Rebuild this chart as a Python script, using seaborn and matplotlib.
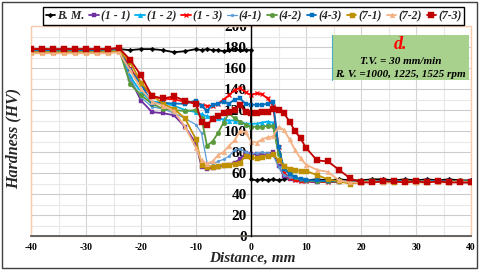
import numpy as np
import pandas as pd
import matplotlib
matplotlib.use("Agg")
import matplotlib.pyplot as plt
import matplotlib.patches as mpatches
import seaborn as sns

# ===== data =====
distance = [-40, -38, -36, -34, -32, -30, -28, -26, -24, -22, -20, -18, -16, -14, -12, -10,
            -9, -8, -7, -6, -5, -4, -3, -2, -1, 0, 1, 2, 3, 4, 5, 6, 7, 8, 9,
            10, 12, 14, 16, 18, 20, 22, 24, 26, 28, 30, 32, 34, 36, 38, 40]

# base metal has two readings at x = 0 (both sides of the joint)
distance_bm = [-40, -38, -36, -34, -32, -30, -28, -26, -24, -22, -20, -18, -16, -14, -12, -10,
               -9, -8, -7, -6, -5, -4, -3, -2, -1, 0, 0, 1, 2, 3, 4, 5, 6, 7, 8, 9,
               10, 12, 14, 16, 18, 20, 22, 24, 26, 28, 30, 32, 34, 36, 38, 40]
hv_bm = [177, 178, 177, 176, 177, 178, 177, 177, 178, 177, 178, 178, 177, 175, 176, 178,
         177, 178, 177, 177, 176, 177, 178, 177, 177, 177, 54, 53, 54, 53, 54, 53, 54, 55, 54, 54,
         53, 54, 53, 54, 53, 53, 54, 54, 53, 54, 53, 54, 53, 54, 53, 53]

hv_1_1 = [176, 177, 177, 176, 177, 177, 176, 177, 178, 150, 129, 118, 117, 115, 104, 88,
          66, 64, 65, 66, 67, 68, 70, 73, 79, 78, 78, 77, 78, 80, 67, 57, 54, 53, 52,
          52, 51, 52, 51, 52, 51, 52, 51, 52, 51, 52, 52, 51, 52, 51, 51]
hv_1_2 = [177, 177, 176, 177, 177, 176, 177, 177, 178, 152, 137, 128, 127, 124, 120, 118,
          116, 114, 113, 112, 111, 110, 110, 109, 107, 107, 107, 108, 109, 108, 80, 60, 56, 54, 53,
          53, 52, 52, 52, 51, 52, 52, 51, 52, 52, 51, 52, 52, 51, 52, 52]
hv_1_3 = [178, 178, 177, 178, 178, 177, 178, 178, 179, 160, 145, 133, 131, 130, 128, 126,
          125, 124, 124, 126, 130, 134, 139, 141, 137, 134, 136, 135, 131, 124, 85, 60, 55, 53, 52,
          52, 52, 51, 52, 52, 51, 52, 52, 51, 52, 52, 51, 52, 52, 51, 52]
hv_4_1 = [176, 177, 177, 177, 176, 177, 177, 177, 177, 150, 132, 123, 121, 117, 112, 106,
          98, 70, 69, 71, 73, 76, 82, 83, 80, 78, 79, 80, 79, 77, 66, 58, 56, 55, 54,
          53, 52, 52, 52, 52, 51, 52, 52, 52, 51, 52, 52, 52, 51, 52, 52]
hv_4_2 = [177, 176, 177, 177, 177, 176, 177, 177, 178, 145, 134, 126, 121, 120, 119, 120,
          112, 86, 90, 98, 108, 117, 112, 109, 106, 104, 104, 104, 105, 105, 78, 66, 60, 56, 54,
          53, 52, 52, 52, 51, 52, 52, 52, 51, 52, 52, 52, 51, 52, 52, 52]
hv_4_3 = [177, 177, 177, 178, 177, 177, 177, 178, 178, 158, 145, 126, 127, 126, 126, 129,
          124, 119, 125, 126, 128, 126, 130, 131, 126, 125, 125, 125, 126, 128, 85, 64, 59, 56, 54,
          53, 53, 52, 52, 52, 51, 52, 52, 52, 52, 51, 52, 52, 52, 51, 52]
hv_7_1 = [175, 175, 175, 175, 175, 175, 175, 175, 176, 166, 146, 134, 126, 121, 112, 92,
          68, 66, 66, 67, 68, 68, 69, 70, 76, 75, 74, 75, 76, 78, 72, 67, 64, 63, 62,
          62, 58, 54, 52, 50, 51, 52, 51, 51, 52, 51, 51, 52, 51, 52, 51]
hv_7_2 = [174, 174, 174, 174, 174, 174, 174, 174, 175, 158, 140, 128, 124, 119, 104, 84,
          72, 69, 71, 77, 80, 86, 91, 100, 99, 90, 89, 92, 94, 95, 104, 101, 92, 82, 74,
          68, 63, 61, 53, 51, 51, 52, 51, 52, 51, 51, 52, 51, 51, 52, 51]
hv_7_3 = [178, 178, 178, 178, 178, 178, 178, 178, 179, 168, 153, 133, 131, 133, 129, 126,
          109, 106, 111, 114, 117, 118, 120, 125, 118, 117, 117, 118, 118, 121, 120, 117, 109, 100, 93,
          84, 72, 71, 63, 55, 51, 51, 52, 52, 51, 52, 51, 52, 51, 51, 51]

labels = ["B. M.", "(1 - 1)", "(1 - 2)", "(1 - 3)", "(4-1)", "(4-2)", "(4-3)", "(7-1)", "(7-2)", "(7-3)"]
x_ticks = [-40, -30, -20, -10, 0, 10, 20, 30, 40]
y_ticks = [0, 20, 40, 60, 80, 100, 120, 140, 160, 180, 200]

# ===== styles =====
series = [
    (distance_bm, hv_bm, "#000000", "D", 2.4),
    (distance, hv_1_1, "#7030a0", "s", 3.4),
    (distance, hv_1_2, "#00b0f0", "^", 3.4),
    (distance, hv_1_3, "#ff0000", "x", 3.2),
    (distance, hv_4_1, "#5b9bd5", "o", 2.0),
    (distance, hv_4_2, "#5b9a3c", "o", 3.4),
    (distance, hv_4_3, "#0070c0", "s", 3.4),
    (distance, hv_7_1, "#bf9000", "s", 3.6),
    (distance, hv_7_2, "#f4b183", "^", 3.4),
    (distance, hv_7_3, "#c00000", "s", 3.8),
]

sns.set_theme(style="white")
plt.rcParams["font.family"] = ["Liberation Serif", "DejaVu Serif"]
plt.rcParams["font.weight"] = "bold"

fig = plt.figure(figsize=(4.8, 2.72), dpi=100)
ax = fig.add_axes([31 / 480, 36 / 272, 440 / 480, 210 / 272])

# gridlines (Excel-like)
for xv in range(-40, 41, 5):
    ax.axvline(xv, color="#d4d4d4" if xv % 10 == 0 else "#e8e8e8", lw=0.8, zorder=0)
for yv in range(0, 201, 10):
    ax.axhline(yv, color="#cccccc" if yv % 20 == 0 else "#e8e8e8", lw=0.8, zorder=0)

for i, (xs, ys, col, mk, ms) in enumerate(series):
    lw = 0.9 if labels[i] == "(4-1)" else 1.3
    sns.lineplot(x=xs, y=ys, ax=ax, color=col, marker=mk, markersize=ms,
                 markeredgecolor=col, markeredgewidth=0.9 if mk == "x" else 0.3,
                 linewidth=lw, estimator=None, sort=False, label=labels[i], zorder=3 + i)

ax.set_xlim(-40, 40)
ax.set_ylim(0, 200)
ax.set_xticks(x_ticks)
ax.set_yticks(y_ticks)
ax.set_xticklabels([str(t) for t in x_ticks], fontsize=7, fontweight="bold")
ax.set_yticklabels([str(t) for t in y_ticks], fontsize=7, fontweight="bold")
ax.tick_params(axis="x", direction="out", length=3, width=0.8, pad=2, colors="black")
ax.tick_params(axis="y", direction="inout", length=4, width=0.8, pad=1, colors="black")

ax.spines["left"].set_position(("data", 0))
ax.spines["left"].set_color("black")
ax.spines["left"].set_linewidth(1.0)
ax.spines["left"].set_zorder(20)
ax.spines["bottom"].set_color("#595959")
ax.spines["bottom"].set_linewidth(1.3)
ax.spines["top"].set_visible(False)
ax.spines["right"].set_visible(False)

# peach plot-area border
ax.add_patch(mpatches.Rectangle((0, 0), 1, 1, transform=ax.transAxes, fill=False,
                                edgecolor="#f8cbad", lw=1.0, zorder=1, clip_on=False))

ax.set_xlabel("")
ax.set_ylabel("")

# annotation box
ax.add_patch(mpatches.Rectangle((14.7, 148.6), 24.9, 42.4, facecolor="#a9d18e",
                                edgecolor="none", zorder=25))
ax.plot([14.7, 14.7], [148.6, 191], color="#4bacc6", lw=0.8, zorder=26)
ax.text(27.2, 182, "d.", color="#ff0000", fontsize=13, fontweight="bold", style="italic",
        ha="center", va="center", zorder=27)
ax.text(27.2, 166.5, "T.V. = 30 mm/min", color="black", fontsize=8, fontweight="bold",
        style="italic", ha="center", va="center", zorder=27)
ax.text(27.2, 153.5, "R. V. =1000, 1225, 1525 rpm", color="black", fontsize=8,
        fontweight="bold", style="italic", ha="center", va="center", zorder=27)

# legend across the top
handles, labs = ax.get_legend_handles_labels()
ax.get_legend().remove()
leg = fig.legend(handles, labs, ncol=10, loc="upper center", bbox_to_anchor=(0.528, 0.995),
                 frameon=True, fancybox=False, edgecolor="black", framealpha=1,
                 handlelength=0.8, handletextpad=0.15, columnspacing=0.45, borderpad=0.25,
                 prop={"family": "Liberation Serif", "weight": "bold", "style": "italic", "size": 8.5})
leg.get_frame().set_linewidth(1.0)

fig.text(14 / 480, 1 - 138 / 272, "Hardness (HV)", rotation=90, ha="center", va="center",
         fontsize=11.5, fontweight="bold", style="italic")
fig.text(252 / 480, 1 - 258 / 272, "Distance, mm", ha="center", va="center",
         fontsize=11, fontweight="bold", style="italic")

# outer frame
fig.patches.append(mpatches.Rectangle((2 / 480, 4 / 272), 475 / 480, 266 / 272,
                                      transform=fig.transFigure, fill=False,
                                      edgecolor="#404040", lw=1.0))

fig.savefig("out.png", dpi=100)
